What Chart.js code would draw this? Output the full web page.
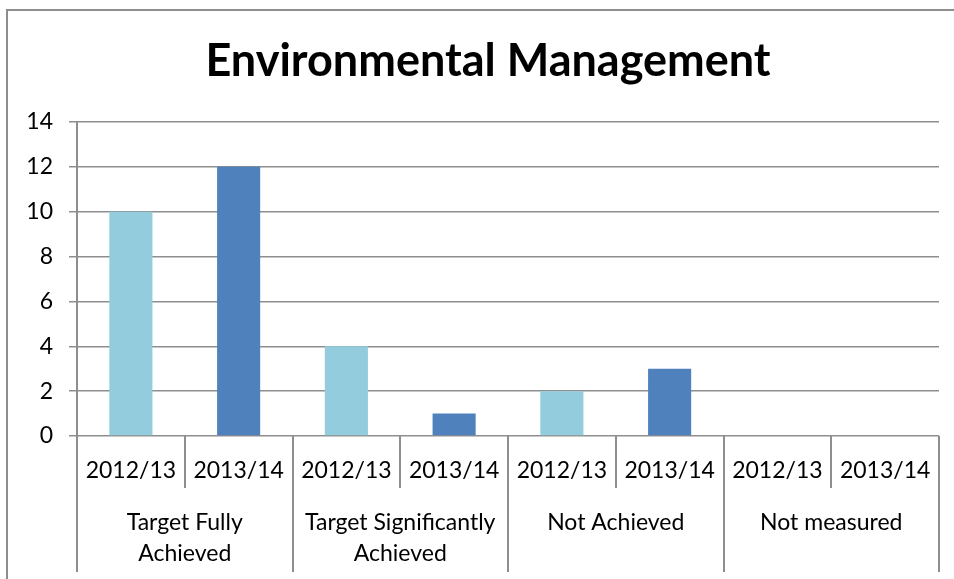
<!DOCTYPE html>
<html>
<head>
<meta charset="utf-8">
<script src="https://cdn.jsdelivr.net/npm/chart.js@4"></script>
<style>
  html, body { margin: 0; padding: 0; background: #fff; }
  #wrap { width: 954px; height: 579px; position: relative; }
</style>
</head>
<body>
<div id="wrap"><canvas id="c" width="954" height="579"></canvas></div>
<script>
const titleText = "Environmental Management";
const years = ["2012/13", "2013/14"];
const groups = [["Target Fully", "Achieved"], ["Target Significantly", "Achieved"], ["Not Achieved"], ["Not measured"]];
const values2012 = [10, 4, 2, 0];
const values2013 = [12, 1, 3, 0];
const yTicks = [0, 2, 4, 6, 8, 10, 12, 14];

const colors = ["#93CDDD", "#4F81BD"];
const FONT = "Lato, 'Open Sans', sans-serif";
const GRID = "#8e8e8e";

// Build interleaved bar list
const labels = [], data = [], barColors = [];
groups.forEach((g, gi) => {
  [values2012, values2013].forEach((arr, yi) => {
    labels.push(years[yi]);
    data.push(arr[gi]);
    barColors.push(colors[yi]);
  });
});

const decor = {
  id: 'decor',
  beforeDraw(chart) {
    const ctx = chart.ctx;
    ctx.save();
    ctx.fillStyle = '#fff';
    ctx.fillRect(0, 0, chart.width, chart.height);
    ctx.strokeStyle = GRID;
    ctx.lineWidth = 2;
    ctx.beginPath();
    ctx.moveTo(7, 579); ctx.lineTo(7, 10); ctx.lineTo(954, 10);
    ctx.stroke();
    ctx.fillStyle = '#000';
    ctx.font = "bold 45px " + FONT;
    ctx.textAlign = 'center';
    ctx.textBaseline = 'middle';
    ctx.fillText(titleText, 488, 61);
    ctx.restore();
  },
  afterDraw(chart) {
    const ctx = chart.ctx;
    const xs = chart.scales.x;
    const area = chart.chartArea;
    const n = labels.length;
    const bound = (i) => {
      if (i <= 0) return area.left;
      if (i >= n) return area.right;
      return (xs.getPixelForValue(i - 1) + xs.getPixelForValue(i)) / 2;
    };
    ctx.save();
    ctx.strokeStyle = GRID;
    ctx.lineWidth = 2;
    for (let i = 0; i <= n; i++) {
      const x = Math.round(bound(i));
      const yEnd = (i % 2 === 0) ? 572 : 488;
      ctx.beginPath();
      ctx.moveTo(x, area.bottom);
      ctx.lineTo(x, yEnd);
      ctx.stroke();
    }
    ctx.fillStyle = '#000';
    ctx.font = "23px " + FONT;
    ctx.textAlign = 'center';
    ctx.textBaseline = 'middle';
    for (let i = 0; i < n; i++) {
      ctx.fillText(labels[i], xs.getPixelForValue(i), 471);
    }
    groups.forEach((g, gi) => {
      const cx = (bound(gi * 2) + bound(gi * 2 + 2)) / 2;
      g.forEach((line, li) => {
        ctx.fillText(line, cx, 523 + li * 31);
      });
    });
    ctx.restore();
  }
};

new Chart(document.getElementById('c'), {
  type: 'bar',
  data: {
    labels: labels,
    datasets: [{
      data: data,
      backgroundColor: barColors,
      borderWidth: 0,
      barPercentage: 0.4,
      categoryPercentage: 1.0
    }]
  },
  options: {
    responsive: false,
    animation: false,
    devicePixelRatio: 1,
    layout: { padding: { left: 28, right: 15, top: 122, bottom: 135 } },
    plugins: {
      legend: { display: false },
      tooltip: { enabled: false },
      title: { display: false }
    },
    scales: {
      x: {
        grid: { display: false },
        border: { display: false },
        ticks: { display: false }
      },
      y: {
        min: 0,
        max: 14,
        afterBuildTicks(scale) { scale.ticks = yTicks.map(v => ({ value: v })); },
        afterFit(scale) { scale.width = 49; },
        grid: { color: GRID, lineWidth: 1.5, tickLength: 8 },
        border: { color: GRID, width: 2 },
        ticks: {
          color: '#000',
          font: { family: FONT, size: 23 },
          padding: 16
        }
      }
    }
  },
  plugins: [decor]
});
</script>
</body>
</html>
